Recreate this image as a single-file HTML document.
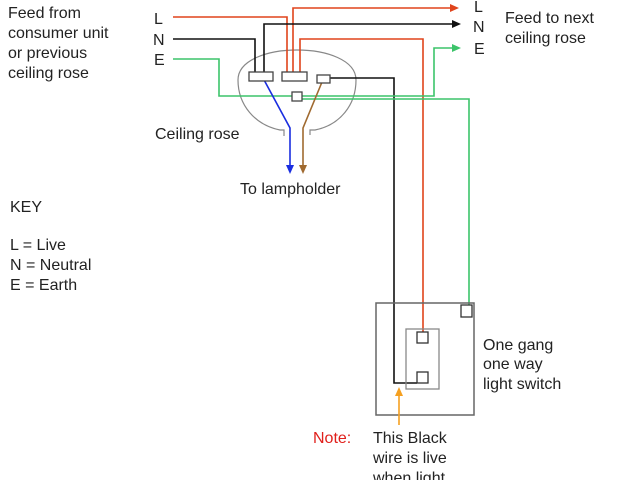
<!DOCTYPE html>
<html><head><style>
html,body{margin:0;padding:0;background:#fff;}
svg{display:block;}
text{font-family:"Liberation Sans",sans-serif;font-size:16px;fill:#222;}
</style></head><body>
<svg width="640" height="480" viewBox="0 0 640 480" xmlns="http://www.w3.org/2000/svg">
<g fill="none" stroke-width="1.6">
<!-- ceiling rose outline -->
<path d="M238,80 C238,40 356,40 356,80 C356,105 340,125 315,130 L310,130 L310,135 M238,80 C238,105 255,125 280,130 L284,130 L284,136" stroke="#888" stroke-width="1.2"/>
<!-- red wires -->
<polyline points="173,17 287,17 287,72" stroke="#e0441c"/>
<polyline points="293,72 293,8 452,8" stroke="#e0441c"/>
<polyline points="300,72 300,39 423,39 423,332" stroke="#e0441c"/>
<!-- black wires -->
<polyline points="173,39 255,39 255,72" stroke="#111"/>
<polyline points="264,72 264,24 454,24" stroke="#111"/>
<polyline points="330,78 394,78 394,383 417,383" stroke="#111"/>
<!-- green -->
<polyline points="173,59 219,59 219,96 292,96" stroke="#3cc46a"/>
<polyline points="302,96 434,96 434,48 454,48" stroke="#3cc46a"/>
<polyline points="302,99 469,99 469,305" stroke="#3cc46a"/>
<!-- blue & brown -->
<polyline points="263,78 290,128 290,166" stroke="#1a2ee0"/>
<polyline points="322,82 303,128 303,166" stroke="#a06a30"/>
<!-- terminals -->
<rect x="249" y="72" width="24" height="9" stroke="#444" fill="#fff" stroke-width="1.3"/>
<rect x="282" y="72" width="25" height="9" stroke="#444" fill="#fff" stroke-width="1.3"/>
<rect x="317" y="75" width="13" height="8" stroke="#444" fill="#fff" stroke-width="1.3"/>
<rect x="292" y="92" width="10" height="9" stroke="#444" fill="#fff" stroke-width="1.3"/>
<!-- switch -->
<rect x="376" y="303" width="98" height="112" stroke="#666" stroke-width="1.5"/>
<rect x="406" y="329" width="33" height="60" stroke="#888" stroke-width="1.3"/>
<rect x="417" y="332" width="11" height="11" stroke="#333" fill="#fff" stroke-width="1.3"/>
<rect x="417" y="372" width="11" height="11" stroke="#333" fill="#fff" stroke-width="1.3"/>
<rect x="461" y="305" width="11" height="12" stroke="#333" fill="#fff" stroke-width="1.3"/>
<line x1="399" y1="425" x2="399" y2="395" stroke="#f5a020"/>
</g>
<!-- arrowheads -->
<polygon points="450,4 459,8 450,12" fill="#e0441c"/>
<polygon points="452,20 461,24 452,28" fill="#111"/>
<polygon points="452,44 461,48 452,52" fill="#3cc46a"/>
<polygon points="286,165 290,174 294,165" fill="#1a2ee0"/>
<polygon points="299,165 303,174 307,165" fill="#a06a30"/>
<polygon points="395,396 399,387 403,396" fill="#f5a020"/>
<!-- text -->
<text x="8" y="18">Feed from</text>
<text x="8" y="38">consumer unit</text>
<text x="8" y="58">or previous</text>
<text x="8" y="78">ceiling rose</text>
<text x="154" y="24">L</text>
<text x="153" y="45">N</text>
<text x="154" y="65">E</text>
<text x="474" y="12">L</text>
<text x="473" y="32">N</text>
<text x="474" y="54">E</text>
<text x="505" y="23">Feed to next</text>
<text x="505" y="43">ceiling rose</text>
<text x="155" y="139">Ceiling rose</text>
<text x="240" y="194">To lampholder</text>
<text x="10" y="212">KEY</text>
<text x="10" y="250">L = Live</text>
<text x="10" y="270">N = Neutral</text>
<text x="10" y="290">E = Earth</text>
<text x="483" y="350">One gang</text>
<text x="483" y="369">one way</text>
<text x="483" y="389">light switch</text>
<text x="313" y="443" style="fill:#e0201c">Note:</text>
<text x="373" y="443">This Black</text>
<text x="373" y="463">wire is live</text>
<text x="373" y="483">when light</text>
</svg>
</body></html>
